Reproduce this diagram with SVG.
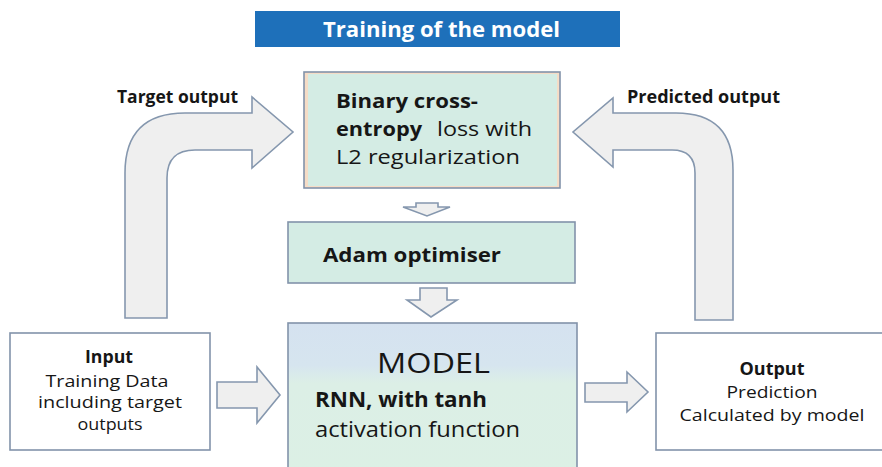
<svg xmlns="http://www.w3.org/2000/svg" width="882" height="467" viewBox="0 0 882 467">
<defs>
<linearGradient id="mg" x1="0" y1="0" x2="0" y2="1">
<stop offset="0" stop-color="#d5e2f0"/>
<stop offset="0.28" stop-color="#d6e5ef"/>
<stop offset="0.4" stop-color="#dcefe6"/>
<stop offset="1" stop-color="#dcf0e5"/>
</linearGradient>
<style>
.box{stroke:#8293aa;stroke-width:1.6}
.arr{fill:#efefef;stroke:#8597ae;stroke-width:1.6;stroke-linejoin:miter}
text{font-family:"Open Sans","Liberation Sans",sans-serif;fill:#161616}
.b{font-weight:bold}
.c{text-anchor:middle}
</style>
</defs>
<rect width="882" height="467" fill="#ffffff"/>

<g id="title">
<rect x="255" y="11" width="365" height="36" fill="#1e70ba"/>
<text x="323" y="37" class="b" font-size="21" style="fill:#ffffff" textLength="237" lengthAdjust="spacingAndGlyphs">Training of the model</text>
</g>

<g id="connectors">
<path class="arr" d="M125,318 L125,173 Q125,113 185,113 L252,113 L252,97 L293,132 L252,168 L252,150 L195,150 Q167,150 167,178 L167,318 Z"/>
<path class="arr" d="M733,320 L733,170 Q733,113 676,113 L613,113 L613,98 L573,132 L613,167 L613,150 L672,150 Q695,150 695,173 L695,320 Z"/>
<path class="arr" d="M416,203 L438,203 L438,207 L450,207 L427,216 L403,207 L416,207 Z"/>
<path class="arr" d="M420,288 L447,288 L447,300 L457,300 L431,317 L407,300 L420,300 Z"/>
<path class="arr" d="M217,382 L257,382 L257,367 L280,395 L257,423 L257,408 L217,408 Z"/>
<path class="arr" d="M585,383 L627,383 L627,372 L648,392 L627,412 L627,402 L585,402 Z"/>
<text x="117" y="103" class="b" font-size="18" textLength="121" lengthAdjust="spacingAndGlyphs">Target output</text>
<text x="627" y="103" class="b" font-size="18" textLength="153" lengthAdjust="spacingAndGlyphs">Predicted output</text>
</g>

<g id="loss">
<rect class="box" x="304" y="72" width="256" height="116" fill="#f5dcc6"/>
<rect x="308" y="74" width="249" height="112" fill="#d4ece4"/>
<text x="336" y="108" class="b" font-size="20" textLength="142" lengthAdjust="spacingAndGlyphs">Binary cross-</text>
<text x="336" y="136" class="b" font-size="20" textLength="86" lengthAdjust="spacingAndGlyphs">entropy</text>
<text x="437" y="136" font-size="20" textLength="95" lengthAdjust="spacingAndGlyphs">loss with</text>
<text x="336" y="164" font-size="20" textLength="184" lengthAdjust="spacingAndGlyphs">L2 regularization</text>
</g>

<g id="adam">
<rect class="box" x="288" y="222" width="287" height="61" fill="#d4ece4"/>
<text x="323" y="262" class="b" font-size="19" textLength="178" lengthAdjust="spacingAndGlyphs">Adam optimiser</text>
</g>

<g id="model">
<rect class="box" x="288" y="323" width="289" height="150" fill="url(#mg)"/>
<text x="377" y="373" font-size="28" textLength="113" lengthAdjust="spacingAndGlyphs">MODEL</text>
<text x="315" y="407" class="b" font-size="22" textLength="172" lengthAdjust="spacingAndGlyphs">RNN, with tanh</text>
<text x="315" y="437" font-size="22" textLength="205" lengthAdjust="spacingAndGlyphs">activation function</text>
</g>

<g id="input">
<rect class="box" x="10" y="333" width="200" height="117" fill="#ffffff"/>
<text x="109" y="363" class="b c" font-size="17" textLength="48" lengthAdjust="spacingAndGlyphs">Input</text>
<text x="107" y="387" class="c" font-size="17" textLength="123" lengthAdjust="spacingAndGlyphs">Training Data</text>
<text x="110" y="408" class="c" font-size="17" textLength="144" lengthAdjust="spacingAndGlyphs">including target</text>
<text x="110" y="430" class="c" font-size="17" textLength="65" lengthAdjust="spacingAndGlyphs">outputs</text>
</g>

<g id="output">
<rect class="box" x="656" y="333" width="240" height="117" fill="#ffffff"/>
<text x="772" y="375" class="b c" font-size="17" textLength="65" lengthAdjust="spacingAndGlyphs">Output</text>
<text x="772" y="398" class="c" font-size="17" textLength="91" lengthAdjust="spacingAndGlyphs">Prediction</text>
<text x="772" y="421" class="c" font-size="17" textLength="185" lengthAdjust="spacingAndGlyphs">Calculated by model</text>
</g>
</svg>
